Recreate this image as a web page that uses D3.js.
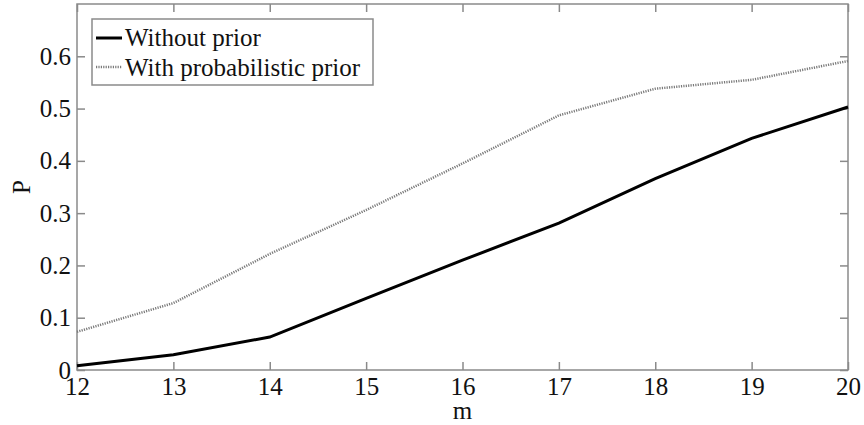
<!DOCTYPE html>
<html><head><meta charset="utf-8">
<script src="https://cdn.jsdelivr.net/npm/d3@7"></script>
<style>body{margin:0;background:#fff}svg{display:block}</style>
</head><body>
<svg id="c" width="864" height="425"></svg>
<script>
const mValues = [12, 13, 14, 15, 16, 17, 18, 19, 20];
const withoutPrior = [0.008, 0.029, 0.063, 0.137, 0.21, 0.281, 0.366, 0.443, 0.503];
const withPrior = [0.073, 0.128, 0.222, 0.306, 0.395, 0.487, 0.538, 0.555, 0.591];
const xTicks = [12, 13, 14, 15, 16, 17, 18, 19, 20];
const yTicks = [0, 0.1, 0.2, 0.3, 0.4, 0.5, 0.6];
const seriesNames = ["Without prior", "With probabilistic prior"];

const FS = 25;
const FF = "'Liberation Serif', 'Times New Roman', Times, 'DejaVu Serif', 'Noto Serif', serif";
const svg = d3.select("#c");
const L = 77, R = 848, T = 4, B = 370;
const x = d3.scaleLinear().domain([12, 20]).range([L, R]);
const y = d3.scaleLinear().domain([0, 0.7]).range([B, T]);
const axisCol = "#8a8a8a";

// frame
svg.append("rect").attr("x", L).attr("y", T).attr("width", R - L).attr("height", B - T)
  .attr("fill", "none").attr("stroke", axisCol).attr("stroke-width", 1.5);

// ticks (inward) on all sides
const tl = 8;
const gx = svg.append("g").attr("transform", `translate(0,${B})`)
  .call(d3.axisBottom(x).tickValues(xTicks).tickSize(-tl).tickPadding(0).tickFormat(d3.format("d")));
const gxt = svg.append("g").attr("transform", `translate(0,${T})`)
  .call(d3.axisTop(x).tickValues(xTicks).tickSize(-tl).tickFormat(""));
const gy = svg.append("g").attr("transform", `translate(${L},0)`)
  .call(d3.axisLeft(y).tickValues(yTicks).tickSize(-tl).tickPadding(6).tickFormat(d => d === 0 ? "0" : d3.format(".1f")(d)));
const gyr = svg.append("g").attr("transform", `translate(${R},0)`)
  .call(d3.axisRight(y).tickValues(yTicks).tickSize(-tl).tickFormat(""));
[gx, gxt, gy, gyr].forEach(g => {
  g.attr("font-family", FF).attr("font-size", FS);
  g.select(".domain").remove();
  g.selectAll(".tick line").attr("stroke", axisCol).attr("stroke-width", 1.5);
  g.selectAll("text").attr("fill", "#111");
});
gx.selectAll("text").attr("y", 25).attr("dy", null);
gy.selectAll("text").attr("dy", "0.32em");

const line = d3.line().x((d, i) => x(mValues[i])).y(d => y(d));
svg.append("path").datum(withPrior).attr("d", line).attr("fill", "none")
  .attr("stroke", "#7a7a7a").attr("stroke-width", 2.5).attr("stroke-dasharray", "1.2,1.2");
svg.append("path").datum(withoutPrior).attr("d", line).attr("fill", "none")
  .attr("stroke", "#000").attr("stroke-width", 3);

const txt = sel => sel.attr("font-family", FF).attr("font-size", FS).attr("fill", "#111");

// axis labels
svg.append("text").attr("x", (L + R) / 2).attr("y", 419).attr("text-anchor", "middle")
  .call(txt).text("m");
svg.append("text").attr("transform", `translate(30,${(T + B) / 2}) rotate(-90)`)
  .attr("text-anchor", "middle").call(txt).text("P");

// legend
const lg = svg.append("g");
lg.append("rect").attr("x", 92).attr("y", 19).attr("width", 281).attr("height", 66)
  .attr("fill", "#fff").attr("stroke", axisCol).attr("stroke-width", 1.5);
lg.append("line").attr("x1", 96).attr("x2", 122).attr("y1", 38).attr("y2", 38)
  .attr("stroke", "#000").attr("stroke-width", 3);
lg.append("line").attr("x1", 96).attr("x2", 122).attr("y1", 67).attr("y2", 67)
  .attr("stroke", "#7a7a7a").attr("stroke-width", 2.5).attr("stroke-dasharray", "1.2,1.2");
lg.append("text").attr("x", 125).attr("y", 46).call(txt).text(seriesNames[0]);
lg.append("text").attr("x", 125).attr("y", 76).call(txt).text(seriesNames[1]);
</script>
</body></html>
